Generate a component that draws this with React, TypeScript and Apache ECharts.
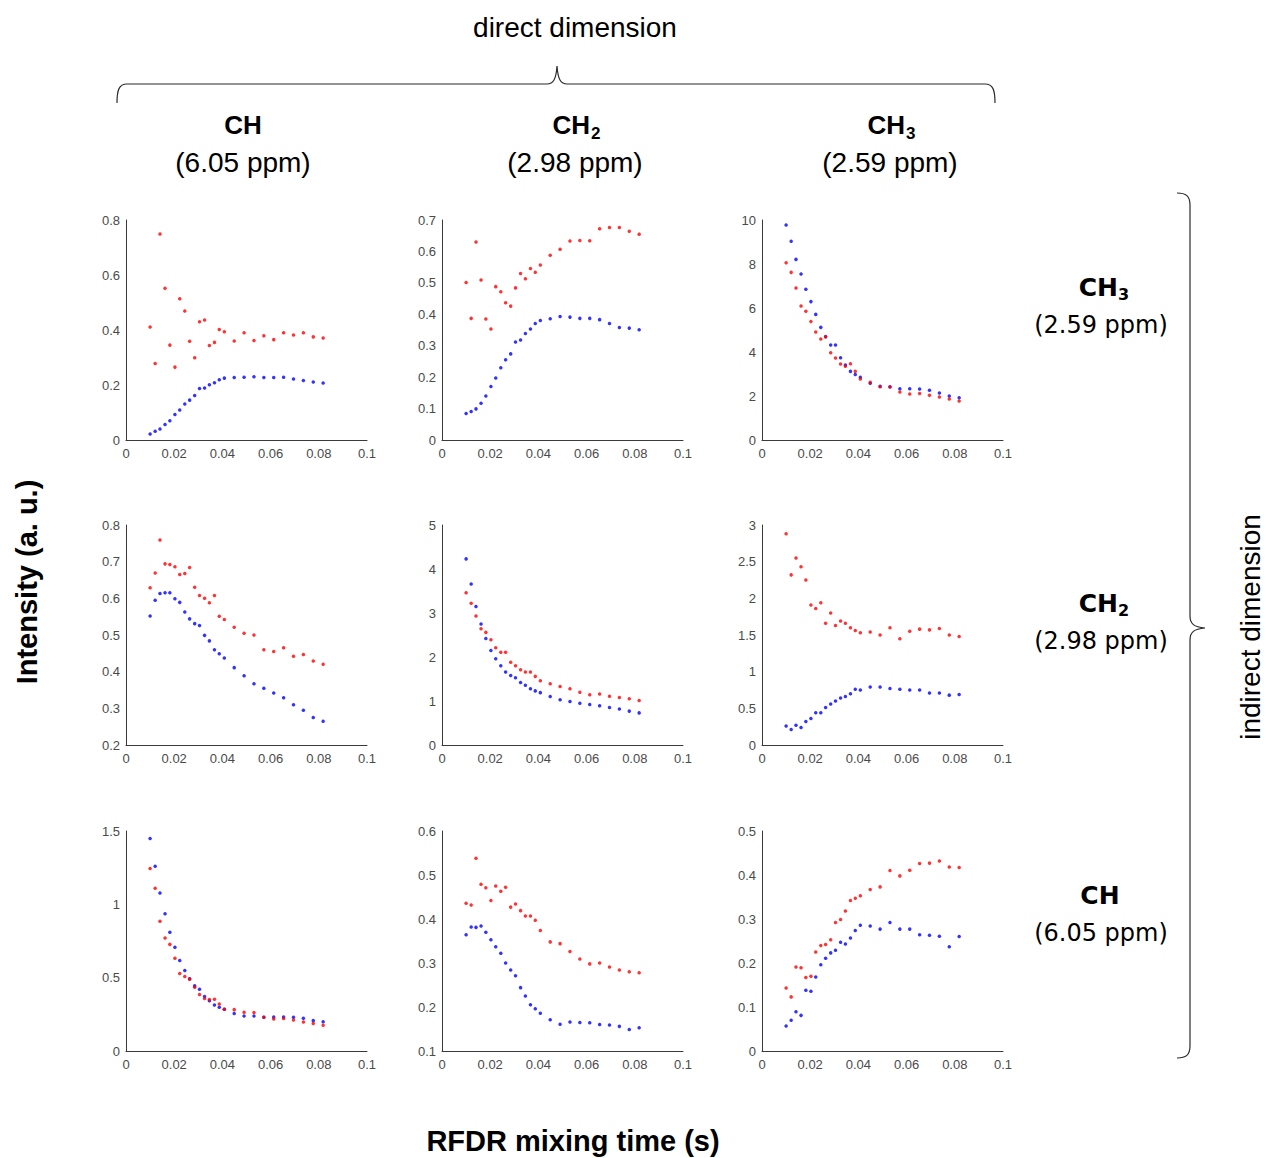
import React, { useEffect, useRef } from "react";
import * as echarts from "echarts";

// RFDR mixing times (s)
const mixingTimes = [
  0.0100, 0.0121, 0.0141, 0.0162, 0.0182, 0.0203, 0.0223, 0.0244, 0.0264, 0.0285,
  0.0305, 0.0326, 0.0346, 0.0367, 0.0387, 0.0408, 0.0449, 0.0490, 0.0531, 0.0572,
  0.0613, 0.0654, 0.0695, 0.0736, 0.0777, 0.0818,
];

// Row 1 (indirect CH3)
const r1c1Red = [0.411, 0.278, 0.749, 0.552, 0.345, 0.265, 0.514, 0.469, 0.359, 0.299, 0.430, 0.436, 0.344, 0.355, 0.402, 0.394, 0.360, 0.390, 0.362, 0.379, 0.365, 0.390, 0.382, 0.390, 0.375, 0.371];
const r1c1Blue = [0.022, 0.032, 0.040, 0.056, 0.070, 0.093, 0.109, 0.131, 0.145, 0.162, 0.187, 0.189, 0.201, 0.208, 0.219, 0.225, 0.227, 0.228, 0.230, 0.227, 0.227, 0.228, 0.222, 0.216, 0.211, 0.207];
const r1c2Red = [0.501, 0.387, 0.630, 0.509, 0.385, 0.353, 0.488, 0.472, 0.437, 0.426, 0.484, 0.530, 0.513, 0.546, 0.534, 0.557, 0.588, 0.607, 0.633, 0.635, 0.634, 0.672, 0.676, 0.676, 0.664, 0.655];
const r1c2Blue = [0.084, 0.091, 0.099, 0.117, 0.140, 0.170, 0.197, 0.230, 0.255, 0.274, 0.312, 0.318, 0.339, 0.353, 0.371, 0.380, 0.386, 0.393, 0.391, 0.387, 0.387, 0.383, 0.371, 0.358, 0.356, 0.351];
const r1c3Red = [8.06, 7.62, 6.91, 6.09, 5.85, 5.39, 4.91, 4.59, 4.68, 3.97, 3.73, 3.45, 3.35, 3.47, 3.12, 2.77, 2.62, 2.42, 2.41, 2.18, 2.09, 2.11, 2.03, 1.95, 1.86, 1.77];
const r1c3Blue = [9.77, 9.03, 8.21, 7.55, 6.85, 6.29, 5.71, 5.12, 4.70, 4.32, 4.32, 3.74, 3.41, 3.12, 2.98, 2.85, 2.58, 2.44, 2.42, 2.33, 2.33, 2.32, 2.26, 2.14, 2.00, 1.92];

// Row 2 (indirect CH2)
const r2c1Red = [0.629, 0.669, 0.759, 0.694, 0.692, 0.686, 0.665, 0.668, 0.684, 0.630, 0.608, 0.600, 0.588, 0.608, 0.551, 0.542, 0.521, 0.505, 0.500, 0.460, 0.455, 0.465, 0.442, 0.447, 0.429, 0.420];
const r2c1Blue = [0.552, 0.595, 0.613, 0.615, 0.615, 0.599, 0.589, 0.563, 0.544, 0.531, 0.526, 0.499, 0.484, 0.460, 0.449, 0.437, 0.411, 0.389, 0.367, 0.355, 0.342, 0.329, 0.310, 0.295, 0.275, 0.265];
const r2c2Red = [3.46, 3.22, 2.93, 2.64, 2.56, 2.39, 2.21, 2.11, 2.11, 1.88, 1.80, 1.71, 1.66, 1.66, 1.56, 1.46, 1.39, 1.33, 1.28, 1.20, 1.14, 1.16, 1.11, 1.08, 1.05, 1.01];
const r2c2Blue = [4.23, 3.66, 3.15, 2.75, 2.42, 2.15, 1.96, 1.80, 1.66, 1.58, 1.53, 1.42, 1.36, 1.28, 1.23, 1.19, 1.10, 1.03, 0.99, 0.95, 0.92, 0.89, 0.85, 0.82, 0.77, 0.73];
const r2c3Red = [2.88, 2.32, 2.55, 2.43, 2.25, 1.91, 1.86, 1.94, 1.66, 1.80, 1.63, 1.69, 1.66, 1.60, 1.56, 1.53, 1.54, 1.50, 1.60, 1.45, 1.55, 1.58, 1.57, 1.59, 1.50, 1.48];
const r2c3Blue = [0.26, 0.21, 0.27, 0.24, 0.32, 0.36, 0.44, 0.44, 0.51, 0.56, 0.60, 0.64, 0.66, 0.70, 0.76, 0.75, 0.79, 0.79, 0.77, 0.76, 0.75, 0.75, 0.71, 0.71, 0.68, 0.69];

// Row 3 (indirect CH)
const r3c1Red = [1.244, 1.109, 0.884, 0.770, 0.727, 0.633, 0.528, 0.508, 0.490, 0.435, 0.385, 0.358, 0.351, 0.353, 0.321, 0.285, 0.282, 0.264, 0.262, 0.230, 0.219, 0.221, 0.212, 0.198, 0.187, 0.175];
const r3c1Blue = [1.449, 1.260, 1.077, 0.936, 0.809, 0.708, 0.617, 0.549, 0.492, 0.444, 0.421, 0.371, 0.342, 0.314, 0.298, 0.285, 0.255, 0.239, 0.239, 0.230, 0.232, 0.232, 0.230, 0.223, 0.207, 0.200];
const r3c2Red = [0.436, 0.432, 0.538, 0.479, 0.471, 0.442, 0.475, 0.463, 0.472, 0.427, 0.434, 0.419, 0.407, 0.407, 0.397, 0.374, 0.348, 0.344, 0.326, 0.309, 0.298, 0.300, 0.291, 0.284, 0.280, 0.278];
const r3c2Blue = [0.364, 0.382, 0.381, 0.384, 0.370, 0.353, 0.337, 0.322, 0.300, 0.284, 0.271, 0.244, 0.225, 0.205, 0.196, 0.186, 0.171, 0.161, 0.166, 0.165, 0.164, 0.160, 0.159, 0.156, 0.149, 0.153];
const r3c3Red = [0.143, 0.123, 0.191, 0.189, 0.167, 0.170, 0.225, 0.240, 0.242, 0.253, 0.292, 0.299, 0.318, 0.342, 0.347, 0.353, 0.367, 0.373, 0.410, 0.398, 0.411, 0.426, 0.427, 0.432, 0.418, 0.417];
const r3c3Blue = [0.057, 0.070, 0.089, 0.081, 0.138, 0.136, 0.168, 0.196, 0.211, 0.223, 0.229, 0.247, 0.243, 0.257, 0.274, 0.286, 0.284, 0.277, 0.292, 0.277, 0.277, 0.264, 0.263, 0.261, 0.237, 0.260];

// y axis ranges [min, max, interval] per panel (row-major)
const yRanges = [
  [0, 0.8, 0.2], [0, 0.7, 0.1], [0, 10, 2],
  [0.2, 0.8, 0.1], [0, 5, 1], [0, 3, 0.5],
  [0, 1.5, 0.5], [0.1, 0.6, 0.1], [0, 0.5, 0.1],
];
const xRange = [0, 0.1, 0.02];

const panelRed = [r1c1Red, r1c2Red, r1c3Red, r2c1Red, r2c2Red, r2c3Red, r3c1Red, r3c2Red, r3c3Red];
const panelBlue = [r1c1Blue, r1c2Blue, r1c3Blue, r2c1Blue, r2c2Blue, r2c3Blue, r3c1Blue, r3c2Blue, r3c3Blue];

const directLabels = [
  { main: "CH", sub: "", ppm: "(6.05 ppm)" },
  { main: "CH", sub: "2", ppm: "(2.98 ppm)" },
  { main: "CH", sub: "3", ppm: "(2.59 ppm)" },
];
const indirectLabels = [
  { main: "CH", sub: "3", ppm: "(2.59 ppm)" },
  { main: "CH", sub: "2", ppm: "(2.98 ppm)" },
  { main: "CH", sub: "", ppm: "(6.05 ppm)" },
];

echarts.graphic.registerShape(
  "topBrace",
  echarts.graphic.extendPath(
    "M117,103 C117,90 119,84 127,84 L547,84 C553,84 556,80 557,66 C558,80 561,84 567,84 L985,84 C993,84 995,90 995,103",
    {}
  )
);
echarts.graphic.registerShape(
  "rightBrace",
  echarts.graphic.extendPath(
    "M1177,193 C1186,193 1190,196 1190,205 L1190,616 C1190,624 1194,627 1205,628 C1194,629 1190,632 1190,640 L1190,1046 C1190,1055 1186,1058 1177,1058",
    {}
  )
);

const colLefts = [126, 442, 762];
const rowTops = [220, 525, 831];
const gridW = 241;
const gridH = 220;

function txt(x: number, y: number, text: string, font: string, align = "center", rotation = 0) {
  return {
    type: "text",
    x,
    y,
    rotation,
    silent: true,
    style: {
      text,
      font,
      fill: "#000",
      align,
      textAlign: align,
      verticalAlign: "middle",
      textVerticalAlign: "middle",
    },
  };
}

export default function App() {
  const ref = useRef<HTMLDivElement>(null);
  useEffect(() => {
    document.body.style.margin = "0";
    if (!ref.current) return;
    const chart = echarts.init(ref.current, undefined, { renderer: "svg" });

    const grids: any[] = [];
    const xAxes: any[] = [];
    const yAxes: any[] = [];
    const series: any[] = [];
    const tickFont = "'Liberation Sans', Arial, sans-serif";
    for (let i = 0; i < 9; i++) {
      const r = Math.floor(i / 3);
      const c = i % 3;
      grids.push({ left: colLefts[c], top: rowTops[r], width: gridW, height: gridH });
      xAxes.push({
        gridIndex: i,
        type: "value",
        min: xRange[0],
        max: xRange[1],
        interval: xRange[2],
        axisLine: { show: true, onZero: false, lineStyle: { color: "#3a3a3a", width: 1 } },
        axisTick: { show: false },
        splitLine: { show: false },
        axisLabel: { color: "#4a4a4a", fontSize: 13, margin: 7, fontFamily: tickFont },
      });
      yAxes.push({
        gridIndex: i,
        type: "value",
        min: yRanges[i][0],
        max: yRanges[i][1],
        interval: yRanges[i][2],
        axisLine: { show: true, onZero: false, lineStyle: { color: "#3a3a3a", width: 1 } },
        axisTick: { show: false },
        splitLine: { show: false },
        axisLabel: { color: "#4a4a4a", fontSize: 13, margin: 6, fontFamily: tickFont },
      });
      series.push({
        type: "scatter",
        xAxisIndex: i,
        yAxisIndex: i,
        symbol: "circle",
        symbolSize: 3.5,
        silent: true,
        itemStyle: { color: "#0000ff" },
        data: mixingTimes.map((t, k) => [t, panelBlue[i][k]]),
      });
      series.push({
        type: "scatter",
        xAxisIndex: i,
        yAxisIndex: i,
        symbol: "circle",
        symbolSize: 3.5,
        silent: true,
        itemStyle: { color: "#ff0000" },
        data: mixingTimes.map((t, k) => [t, panelRed[i][k]]),
      });
    }

    const topFont = "'Liberation Sans', Arial, sans-serif";
    const rightFont = "'DejaVu Sans', Verdana, sans-serif";
    const graphics: any[] = [];
    graphics.push(txt(575, 27, "direct dimension", `28px ${topFont}`));
    graphics.push(txt(1250, 627, "indirect dimension", `28px ${topFont}`, "center", Math.PI / 2));
    graphics.push(txt(27, 582, "Intensity (a. u.)", `bold 29px ${topFont}`, "center", Math.PI / 2));
    graphics.push(txt(573, 1141, "RFDR mixing time (s)", `bold 29px ${topFont}`));

    const topCenters = [243, 575, 890];
    directLabels.forEach((d, c) => {
      if (d.sub) {
        const edge = topCenters[c] + 15;
        graphics.push(txt(edge, 125, d.main, `bold 26px ${topFont}`, "right"));
        graphics.push(txt(edge + 1, 133, d.sub, `bold 17px ${topFont}`, "left"));
      } else {
        graphics.push(txt(topCenters[c], 125, d.main, `bold 26px ${topFont}`));
      }
      graphics.push(txt(topCenters[c], 162, d.ppm, `28px ${topFont}`));
    });

    const rightMainY = [287, 603, 895];
    indirectLabels.forEach((d, r) => {
      if (d.sub) {
        graphics.push(txt(1118, rightMainY[r], d.main, `bold 25px ${rightFont}`, "right"));
        graphics.push(txt(1118, rightMainY[r] + 7, d.sub, `bold 16px ${rightFont}`, "left"));
      } else {
        graphics.push(txt(1100, rightMainY[r], d.main, `bold 25px ${rightFont}`));
      }
      graphics.push(txt(1101, rightMainY[r] + 38, d.ppm, `24px ${rightFont}`));
    });

    graphics.push({
      type: "topBrace",
      x: 0,
      y: 0,
      silent: true,
      style: { stroke: "#2a2a2a", fill: "none", lineWidth: 1.2 },
    });
    graphics.push({
      type: "rightBrace",
      x: 0,
      y: 0,
      silent: true,
      style: { stroke: "#2a2a2a", fill: "none", lineWidth: 1.2 },
    });

    chart.setOption({
      animation: false,
      backgroundColor: "#ffffff",
      grid: grids,
      xAxis: xAxes,
      yAxis: yAxes,
      series,
      graphic: { elements: graphics },
    });
    return () => chart.dispose();
  }, []);
  return <div ref={ref} style={{ width: 1266, height: 1158 }} />;
}
